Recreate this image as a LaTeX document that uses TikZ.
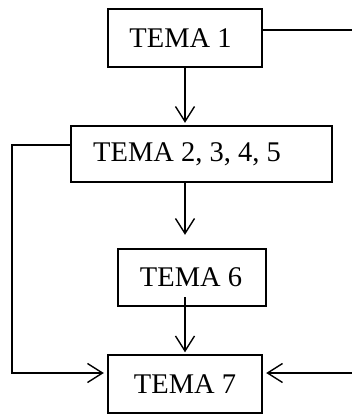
\documentclass[tikz,border=0pt]{standalone}
\usepackage{fontspec}
\setmainfont{Liberation Serif}
\usetikzlibrary{arrows.meta}
\begin{document}
\begin{tikzpicture}[x=1pt,y=-1pt,
  box/.style={draw,line width=2.4pt,inner sep=0pt,font=\fontsize{28.5}{34}\selectfont},
  conn/.style={line width=1.4pt},
  arr/.style={conn,-{Straight Barb[length=15pt,width=19pt,line width=1.4pt]}}]
\useasboundingbox (0,0) rectangle (352,414);
\node[box,minimum width=154pt,minimum height=58pt] (t1) at (185,38) {TEMA 1\hspace*{9pt}};
\node[box,minimum width=261pt,minimum height=56pt] (t2) at (201.5,154) {TEMA 2, 3, 4, 5\hspace*{29pt}};
\node[box,minimum width=148pt,minimum height=57pt] (t6) at (192,277.5) {TEMA 6\hspace*{2pt}};
\node[box,minimum width=154pt,minimum height=58pt] (t7) at (185,384) {TEMA 7};
\coordinate (r1) at (352,30);
\coordinate (r7) at (352,373);
\coordinate (lx) at (12,0);
\coordinate (s6) at (185,297);
% down arrows
\draw[arr,shorten >=2pt] (t1.south) -- (t1.south |- t2.north);
\draw[arr,shorten >=13pt] (t2.south -| t7.north) -- (t6.north -| t7.north);
\draw[arr,shorten >=1.5pt] (s6) -- (t7.north);
% left loop
\draw[arr,shorten >=3pt] (t2.west |- 0,145) -- (lx |- 0,145) -- (lx |- r7) -- (t7.west |- r7);
% right stubs
\draw[conn] (t1.east |- r1) -- (r1);
\draw[arr,shorten >=3pt] (r7) -- (t7.east |- r7);
\end{tikzpicture}
\end{document}
